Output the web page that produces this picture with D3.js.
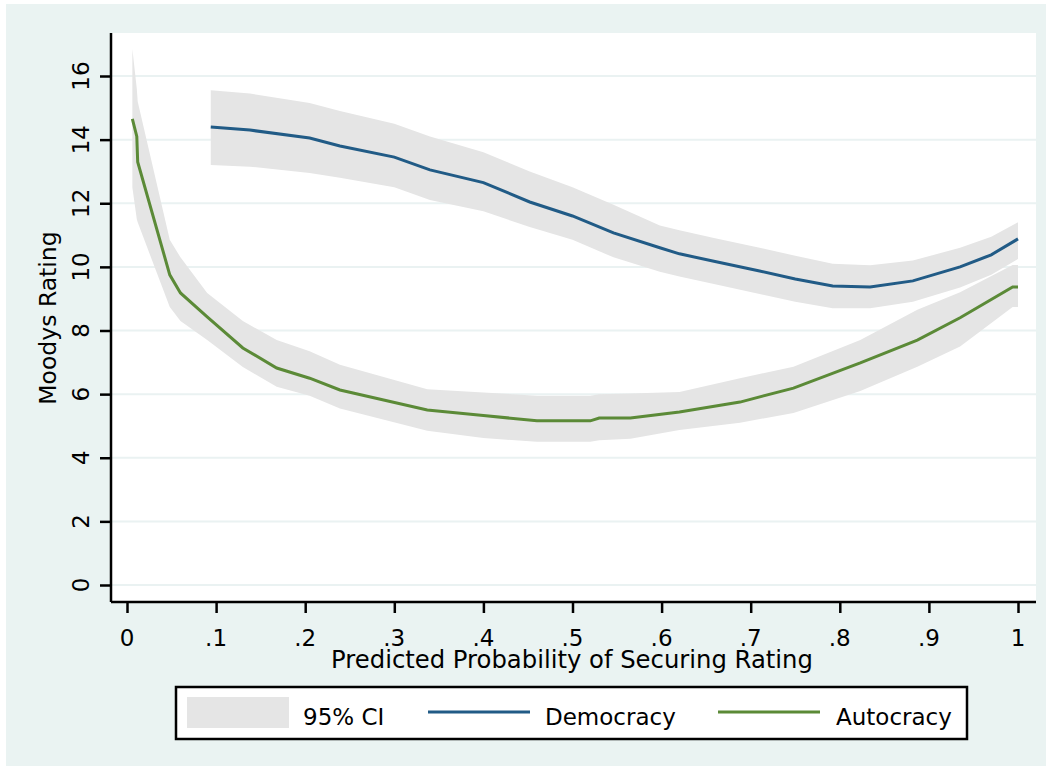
<!DOCTYPE html>
<html>
<head>
<meta charset="utf-8">
<script src="https://cdn.jsdelivr.net/npm/d3@7"></script>
<style>
  body { margin: 0; background: #fff; }
  svg { display: block; font-family: "DejaVu Sans", sans-serif; }
</style>
</head>
<body>
<svg id="chart" width="1052" height="768"></svg>
<script>
// Democracy: predicted rating with 95% CI
const demX = [0.094, 0.138, 0.205, 0.239, 0.30, 0.34, 0.40, 0.452, 0.50, 0.546, 0.598, 0.62, 0.66, 0.71, 0.75, 0.792, 0.834, 0.882, 0.935, 0.97, 1.0];
const demY = [14.4, 14.3, 14.05, 13.8, 13.45, 13.05, 12.65, 12.04, 11.6, 11.07, 10.6, 10.41, 10.17, 9.87, 9.62, 9.4, 9.37, 9.56, 10.0, 10.38, 10.88];
const demHi = [15.55, 15.45, 15.15, 14.9, 14.5, 14.1, 13.6, 13.0, 12.5, 11.95, 11.3, 11.15, 10.9, 10.6, 10.35, 10.1, 10.05, 10.2, 10.6, 10.95, 11.4];
const demLo = [13.2, 13.15, 12.95, 12.8, 12.5, 12.1, 11.75, 11.25, 10.85, 10.3, 9.85, 9.7, 9.45, 9.15, 8.9, 8.7, 8.7, 8.9, 9.35, 9.75, 10.25];

// Autocracy
const autX = [0.006, 0.011, 0.012, 0.048, 0.06, 0.09, 0.13, 0.168, 0.205, 0.239, 0.337, 0.40, 0.46, 0.52, 0.53, 0.565, 0.62, 0.688, 0.748, 0.823, 0.887, 0.935, 0.994, 1.0];
const autY = [14.65, 14.1, 13.3, 9.75, 9.18, 8.43, 7.45, 6.82, 6.5, 6.13, 5.5, 5.33, 5.16, 5.16, 5.25, 5.25, 5.44, 5.75, 6.19, 6.98, 7.7, 8.4, 9.37, 9.37];
const autHi = [16.85, 15.6, 15.2, 10.85, 10.3, 9.18, 8.3, 7.7, 7.35, 6.92, 6.15, 6.05, 5.95, 5.95, 6.0, 6.02, 6.07, 6.5, 6.86, 7.7, 8.65, 9.2, 10.06, 10.06];
const autLo = [12.5, 11.5, 11.4, 8.74, 8.3, 7.7, 6.85, 6.23, 5.95, 5.55, 4.85, 4.62, 4.5, 4.5, 4.55, 4.6, 4.87, 5.1, 5.41, 6.1, 6.86, 7.5, 8.74, 8.74];

const yTicks = [0, 2, 4, 6, 8, 10, 12, 14, 16];
const xTicks = [0, 0.1, 0.2, 0.3, 0.4, 0.5, 0.6, 0.7, 0.8, 0.9, 1];
const xTickLabels = ["0", ".1", ".2", ".3", ".4", ".5", ".6", ".7", ".8", ".9", "1"];
const legendLabels = ["95% CI", "Democracy", "Autocracy"];

const colors = {
    bg: "#eaf3f2",
    grid: "#eaf2f2",
    ci: "#e5e5e5",
    dem: "#215b86",
    aut: "#5b8a37"
};

const svg = d3.select("#chart");

// plot region
const plot = {left: 111, right: 1036, top: 33, bottom: 602};

const x = d3.scaleLinear().domain([0, 1]).range([127, 1018]);
const y = d3.scaleLinear().domain([0, 16]).range([585, 76]);

// outer background and plot background
svg.append("rect")
    .attr("x", 6).attr("y", 4)
    .attr("width", 1040).attr("height", 762)
    .attr("fill", colors.bg);

svg.append("rect")
    .attr("x", plot.left).attr("y", plot.top)
    .attr("width", plot.right - plot.left).attr("height", plot.bottom - plot.top)
    .attr("fill", "#fff");

// grid lines
svg.append("g")
    .selectAll("line")
    .data(yTicks)
    .join("line")
    .attr("x1", plot.left).attr("x2", plot.right)
    .attr("y1", d => y(d)).attr("y2", d => y(d))
    .attr("stroke", colors.grid)
    .attr("stroke-width", 2);

function zip(xs, ys) {
    return xs.map((v, i) => [v, ys[i]]);
}

const area = d3.area()
    .x(d => x(d[0]))
    .y0(d => y(d[1]))
    .y1(d => y(d[2]));

const line = d3.line()
    .x(d => x(d[0]))
    .y(d => y(d[1]));

const demBand = demX.map((v, i) => [v, demLo[i], demHi[i]]);
const autBand = autX.map((v, i) => [v, autLo[i], autHi[i]]);

svg.append("path").datum(demBand).attr("d", area).attr("fill", colors.ci);
svg.append("path").datum(autBand).attr("d", area).attr("fill", colors.ci);

svg.append("path").datum(zip(demX, demY))
    .attr("d", line)
    .attr("fill", "none")
    .attr("stroke", colors.dem)
    .attr("stroke-width", 3);

svg.append("path").datum(zip(autX, autY))
    .attr("d", line)
    .attr("fill", "none")
    .attr("stroke", colors.aut)
    .attr("stroke-width", 3);

// axes
const yAxis = svg.append("g")
    .attr("transform", `translate(${plot.left},0)`)
    .call(d3.axisLeft(y).tickValues(yTicks).tickSize(11).tickFormat(""));
yAxis.select(".domain").attr("d", `M0,${plot.top}V${plot.bottom}`);

const xAxis = svg.append("g")
    .attr("transform", `translate(0,${plot.bottom})`)
    .call(d3.axisBottom(x).tickValues(xTicks).tickSize(11).tickFormat(""));
xAxis.select(".domain").attr("d", `M${plot.left},0H${plot.right}`);

svg.selectAll(".domain, .tick line")
    .attr("stroke", "#000")
    .attr("stroke-width", 2.5);

// tick labels
svg.append("g")
    .selectAll("text")
    .data(yTicks)
    .join("text")
    .attr("transform", d => `translate(89,${y(d)}) rotate(-90)`)
    .attr("text-anchor", "middle")
    .attr("font-size", 23)
    .text(d => d);

svg.append("g")
    .selectAll("text")
    .data(xTicks)
    .join("text")
    .attr("x", d => x(d))
    .attr("y", 646)
    .attr("text-anchor", "middle")
    .attr("font-size", 23)
    .text((d, i) => xTickLabels[i]);

// axis titles
svg.append("text")
    .attr("x", 572).attr("y", 668)
    .attr("text-anchor", "middle")
    .attr("font-size", 24.3)
    .text("Predicted Probability of Securing Rating");

svg.append("text")
    .attr("transform", "translate(56,318) rotate(-90)")
    .attr("text-anchor", "middle")
    .attr("font-size", 23.5)
    .text("Moodys Rating");

// legend
const legend = svg.append("g");
legend.append("rect")
    .attr("x", 176).attr("y", 687)
    .attr("width", 791).attr("height", 52)
    .attr("fill", "#fff")
    .attr("stroke", "#000")
    .attr("stroke-width", 2.5);

legend.append("rect")
    .attr("x", 187).attr("y", 697)
    .attr("width", 102).attr("height", 31)
    .attr("fill", colors.ci);

legend.append("line")
    .attr("x1", 428).attr("x2", 530)
    .attr("y1", 712).attr("y2", 712)
    .attr("stroke", colors.dem).attr("stroke-width", 3);

legend.append("line")
    .attr("x1", 718).attr("x2", 820)
    .attr("y1", 712).attr("y2", 712)
    .attr("stroke", colors.aut).attr("stroke-width", 3);

const legendX = [303, 545, 836];
legend.selectAll("text.lbl")
    .data(legendLabels)
    .join("text")
    .attr("class", "lbl")
    .attr("x", (d, i) => legendX[i])
    .attr("y", 725)
    .attr("font-size", 23)
    .text(d => d);
</script>
</body>
</html>
